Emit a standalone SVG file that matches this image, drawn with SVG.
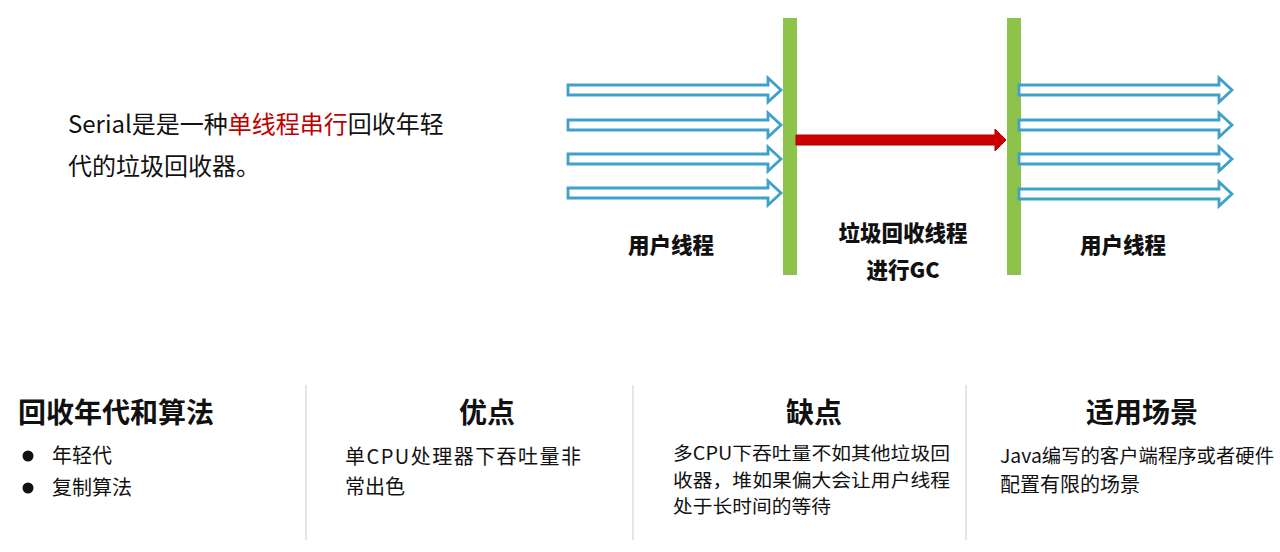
<svg xmlns="http://www.w3.org/2000/svg" width="1280" height="552" viewBox="0 0 1280 552">
<style>
  .t { font-family: "Noto Sans CJK SC", "Liberation Sans", sans-serif; fill: #111; }
  .lbl { font-size: 21.5px; font-weight: 900; text-anchor: middle; }
  .h { font-size: 28px; font-weight: bold; }
  .body { font-size: 20px; }
  .cons { font-size: 18.5px; }
  .red { fill: #C00000; }
  .bar { fill: #8DC24B; }
  .tharr { fill: #fff; stroke: #3FA0CA; stroke-width: 2.8; stroke-linejoin: miter; }
  .div { stroke: #DDDDDD; stroke-width: 1.5; }
</style>
<defs>
  <path id="hollow" d="M0,-5 H200 V-12 L213,0 L200,12 V5 H0 Z"/>
</defs>
<rect width="1280" height="552" fill="#fff"/>

<g id="intro">
  <text class="t" x="68" y="133" font-size="24">Serial是是一种<tspan class="red">单线程串行</tspan>回收年轻</text>
  <text class="t" x="68" y="175" font-size="24">代的垃圾回收器。</text>
</g>

<g id="bar-left"><rect class="bar" x="783" y="18" width="14" height="257"/></g>
<g id="bar-right"><rect class="bar" x="1007" y="18" width="14" height="257"/></g>

<g id="connectors">
  <use href="#hollow" class="tharr" transform="translate(568,90)"/>
  <use href="#hollow" class="tharr" transform="translate(568,125)"/>
  <use href="#hollow" class="tharr" transform="translate(568,159)"/>
  <use href="#hollow" class="tharr" transform="translate(568,193)"/>
  <use href="#hollow" class="tharr" transform="translate(1019,90)"/>
  <use href="#hollow" class="tharr" transform="translate(1019,125)"/>
  <use href="#hollow" class="tharr" transform="translate(1019,159)"/>
  <use href="#hollow" class="tharr" transform="translate(1019,194)"/>
  <path d="M796,135 H995 V129 L1006,140 L995,151 V145 H796 Z" fill="#CC0000" stroke="#B00000" stroke-width="1"/>
</g>

<g id="label-user-left"><text class="t lbl" x="671" y="253">用户线程</text></g>
<g id="label-gc">
  <text class="t lbl" x="903" y="241">垃圾回收线程</text>
  <text class="t lbl" x="903" y="278">进行GC</text>
</g>
<g id="label-user-right"><text class="t lbl" x="1123" y="253">用户线程</text></g>

<g id="dividers">
  <line class="div" x1="306" y1="385" x2="306" y2="540"/>
  <line class="div" x1="633" y1="385" x2="633" y2="540"/>
  <line class="div" x1="966" y1="385" x2="966" y2="540"/>
</g>

<g id="col-generation">
  <text class="t h" x="18" y="423">回收年代和算法</text>
  <circle cx="28" cy="456" r="5.5" fill="#111"/>
  <circle cx="28" cy="488" r="5.5" fill="#111"/>
  <text class="t body" x="52" y="463">年轻代</text>
  <text class="t body" x="52" y="495">复制算法</text>
</g>

<g id="col-pros">
  <text class="t h" x="487" y="423" text-anchor="middle">优点</text>
  <text class="t body" x="345" y="464" textLength="236" lengthAdjust="spacing">单CPU处理器下吞吐量非</text>
  <text class="t body" x="345" y="494">常出色</text>
</g>

<g id="col-cons">
  <text class="t h" x="814" y="423" text-anchor="middle">缺点</text>
  <text class="t cons" x="673" y="460" textLength="277" lengthAdjust="spacingAndGlyphs">多CPU下吞吐量不如其他垃圾回</text>
  <text class="t cons" x="673" y="487" textLength="277" lengthAdjust="spacingAndGlyphs">收器，堆如果偏大会让用户线程</text>
  <text class="t cons" x="673" y="513" textLength="158" lengthAdjust="spacingAndGlyphs">处于长时间的等待</text>
</g>

<g id="col-scenario">
  <text class="t h" x="1142" y="423" text-anchor="middle">适用场景</text>
  <text class="t" x="1000" y="463" font-size="19" textLength="274" lengthAdjust="spacingAndGlyphs">Java编写的客户端程序或者硬件</text>
  <text class="t body" x="1000" y="492">配置有限的场景</text>
</g>
</svg>
